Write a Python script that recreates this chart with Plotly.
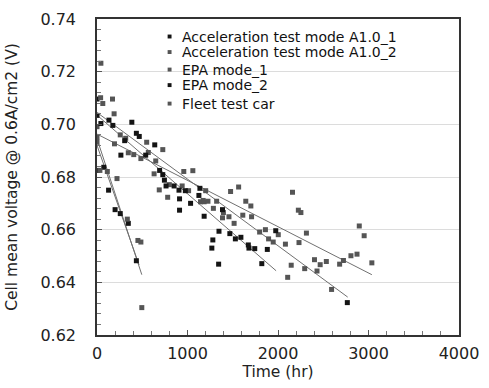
import plotly.graph_objects as go

# ---- data ----
a1_x = [3, 75, 128, 200, 257, 346, 435]
a1_y = [0.6825, 0.6837, 0.6750, 0.6676, 0.6661, 0.6624, 0.6482]

a2_x = [0, 0, 32, 114, 221, 335, 452, 485, 495]
a2_y = [0.6950, 0.6932, 0.6825, 0.6821, 0.6794, 0.6640, 0.6559, 0.6553, 0.6304]

epa1_x = [0, 64, 189, 257, 317, 193, 346, 406, 485, 567, 649, 631, 688, 799, 941,
          1012, 781, 1201, 1173, 1144, 1184, 1226, 1322, 1286, 1397, 1387, 1458,
          1515, 1611, 1708, 1797, 1861, 1896, 1947, 2003, 2082, 2146, 2107, 2592]
epa1_y = [0.6991, 0.7079, 0.7040, 0.6960, 0.6947, 0.6926, 0.6892, 0.6885, 0.6870,
          0.6893, 0.6861, 0.6812, 0.6751, 0.6771, 0.6766, 0.6748, 0.6723, 0.6748,
          0.6711, 0.6706, 0.6706, 0.6708, 0.6708, 0.6681, 0.6665, 0.6645, 0.6649,
          0.6624, 0.6655, 0.6649, 0.6591, 0.6600, 0.6565, 0.6553, 0.6581, 0.6545,
          0.6465, 0.6419, 0.6373]

epa2_x = [0, 0, 43, 132, 175, 306, 385, 435, 467, 264, 538, 638, 692, 727, 745, 763,
          852, 906, 976, 912, 912, 1034, 1126, 1137, 1184, 1387, 1348, 1280, 1269,
          1344, 1468, 1529, 1590, 1672, 1679, 1743, 1975, 1882, 1821, 2766]
epa2_y = [0.7096, 0.7034, 0.7003, 0.7016, 0.6996, 0.6938, 0.7008, 0.6966, 0.6954,
          0.6883, 0.6883, 0.6922, 0.6825, 0.6809, 0.6788, 0.6766, 0.6766, 0.6750,
          0.6748, 0.6717, 0.6674, 0.6700, 0.6730, 0.6757, 0.6651, 0.6676, 0.6594,
          0.6561, 0.6530, 0.6469, 0.6585, 0.6565, 0.6571, 0.6542, 0.6530, 0.6528,
          0.6596, 0.6525, 0.6471, 0.6323]

fleet_x = [43, 40, 171, 549, 727, 959, 1059, 1476, 1565, 1644, 1700, 2160, 2225,
           2253, 2314, 2232, 2403, 2466, 2534, 2681, 2723, 2806, 2873, 2898, 2952,
           3037, 2431, 2295]
fleet_y = [0.7232, 0.7101, 0.7096, 0.6932, 0.6904, 0.6821, 0.6824, 0.6745, 0.6762,
           0.6708, 0.6690, 0.6742, 0.6674, 0.6665, 0.6587, 0.6551, 0.6486, 0.6467,
           0.6479, 0.6469, 0.6483, 0.6501, 0.6507, 0.6614, 0.6577, 0.6474, 0.6443,
           0.6452]

# trend lines: start/end values
trend_x0 = [0, 0, 0, 0, 0]
trend_y0 = [0.6920, 0.6945, 0.7035, 0.7045, 0.6963]
trend_x1 = [465, 495, 1979, 2770, 3037]
trend_y1 = [0.6466, 0.6429, 0.6444, 0.6344, 0.6429]

y_ticks = [0.62, 0.64, 0.66, 0.68, 0.70, 0.72, 0.74]
y_tick_text = ["0.62", "0.64", "0.66", "0.68", "0.70", "0.72", "0.74"]
x_ticks = [0, 1000, 2000, 3000, 4000]

names = ["Acceleration test mode A1.0_1", "Acceleration test mode A1.0_2",
         "EPA mode_1", "EPA mode_2", "Fleet test car"]
colors = ["#141414", "#555555", "#555555", "#141414", "#555555"]
xs = [a1_x, a2_x, epa1_x, epa2_x, fleet_x]
ys = [a1_y, a2_y, epa1_y, epa2_y, fleet_y]

FONT = "DejaVu Sans, Verdana, sans-serif"

# compact legend layout (paper coords): row centres, key and text positions
legend_rows_y = [0.9446, 0.8954, 0.8400, 0.7908, 0.7323]
legend_key_x = 0.2005
legend_text_x = 0.2299
key_hw, key_hh = 0.0054, 0.0062

fig = go.Figure()
for i in range(5):
    fig.add_trace(go.Scatter(
        x=[trend_x0[i], trend_x1[i]], y=[trend_y0[i], trend_y1[i]],
        mode="lines", line=dict(color="#707070", width=1), showlegend=False,
        hoverinfo="skip"))
for i in range(5):
    fig.add_trace(go.Scatter(
        x=xs[i], y=ys[i], mode="markers", name=names[i], showlegend=False,
        marker=dict(symbol="square", size=5, color=colors[i], line=dict(width=0))))

for i in range(5):
    fig.add_shape(type="rect", xref="paper", yref="paper",
                  x0=legend_key_x - key_hw, x1=legend_key_x + key_hw,
                  y0=legend_rows_y[i] - key_hh, y1=legend_rows_y[i] + key_hh,
                  fillcolor=colors[i], line=dict(width=0))
    fig.add_annotation(xref="paper", yref="paper", x=legend_text_x, y=legend_rows_y[i],
                       text=names[i], showarrow=False, xanchor="left", yanchor="middle",
                       font=dict(size=14, color="#111", family=FONT))

fig.update_layout(
    width=489, height=388,
    margin=dict(l=97, r=18, t=10, b=53),
    paper_bgcolor="white", plot_bgcolor="white",
    font=dict(family=FONT, color="#222", size=15),
    showlegend=False,
)
fig.update_xaxes(
    range=[0, 4000], tickmode="array", tickvals=x_ticks,
    showline=True, linecolor="#333", linewidth=1.5, mirror=True,
    ticks="inside", ticklen=5, tickcolor="#555",
    minor=dict(ticks="inside", dtick=200, ticklen=4, tickcolor="#777"),
    showgrid=False, zeroline=False, ticklabeloverflow="allow",
    tickfont=dict(size=16), ticklabelstandoff=3,
    title=dict(text="Time (hr)", font=dict(size=15.5), standoff=0),
)
fig.update_yaxes(
    range=[0.62, 0.74], tickmode="array", tickvals=y_ticks, ticktext=y_tick_text,
    showline=True, linecolor="#333", linewidth=1.5, mirror=True,
    ticks="inside", ticklen=5, tickcolor="#555",
    minor=dict(ticks="inside", dtick=0.004, ticklen=4, tickcolor="#777"),
    showgrid=True, gridcolor="#dcdcdc", gridwidth=1, zeroline=False,
    ticklabeloverflow="allow",
    tickfont=dict(size=16), ticklabelstandoff=16,
    title=dict(text="Cell mean voltage @ 0.6A/cm2 (V)", font=dict(size=15.5), standoff=19),
)

fig.write_html("out.html")
